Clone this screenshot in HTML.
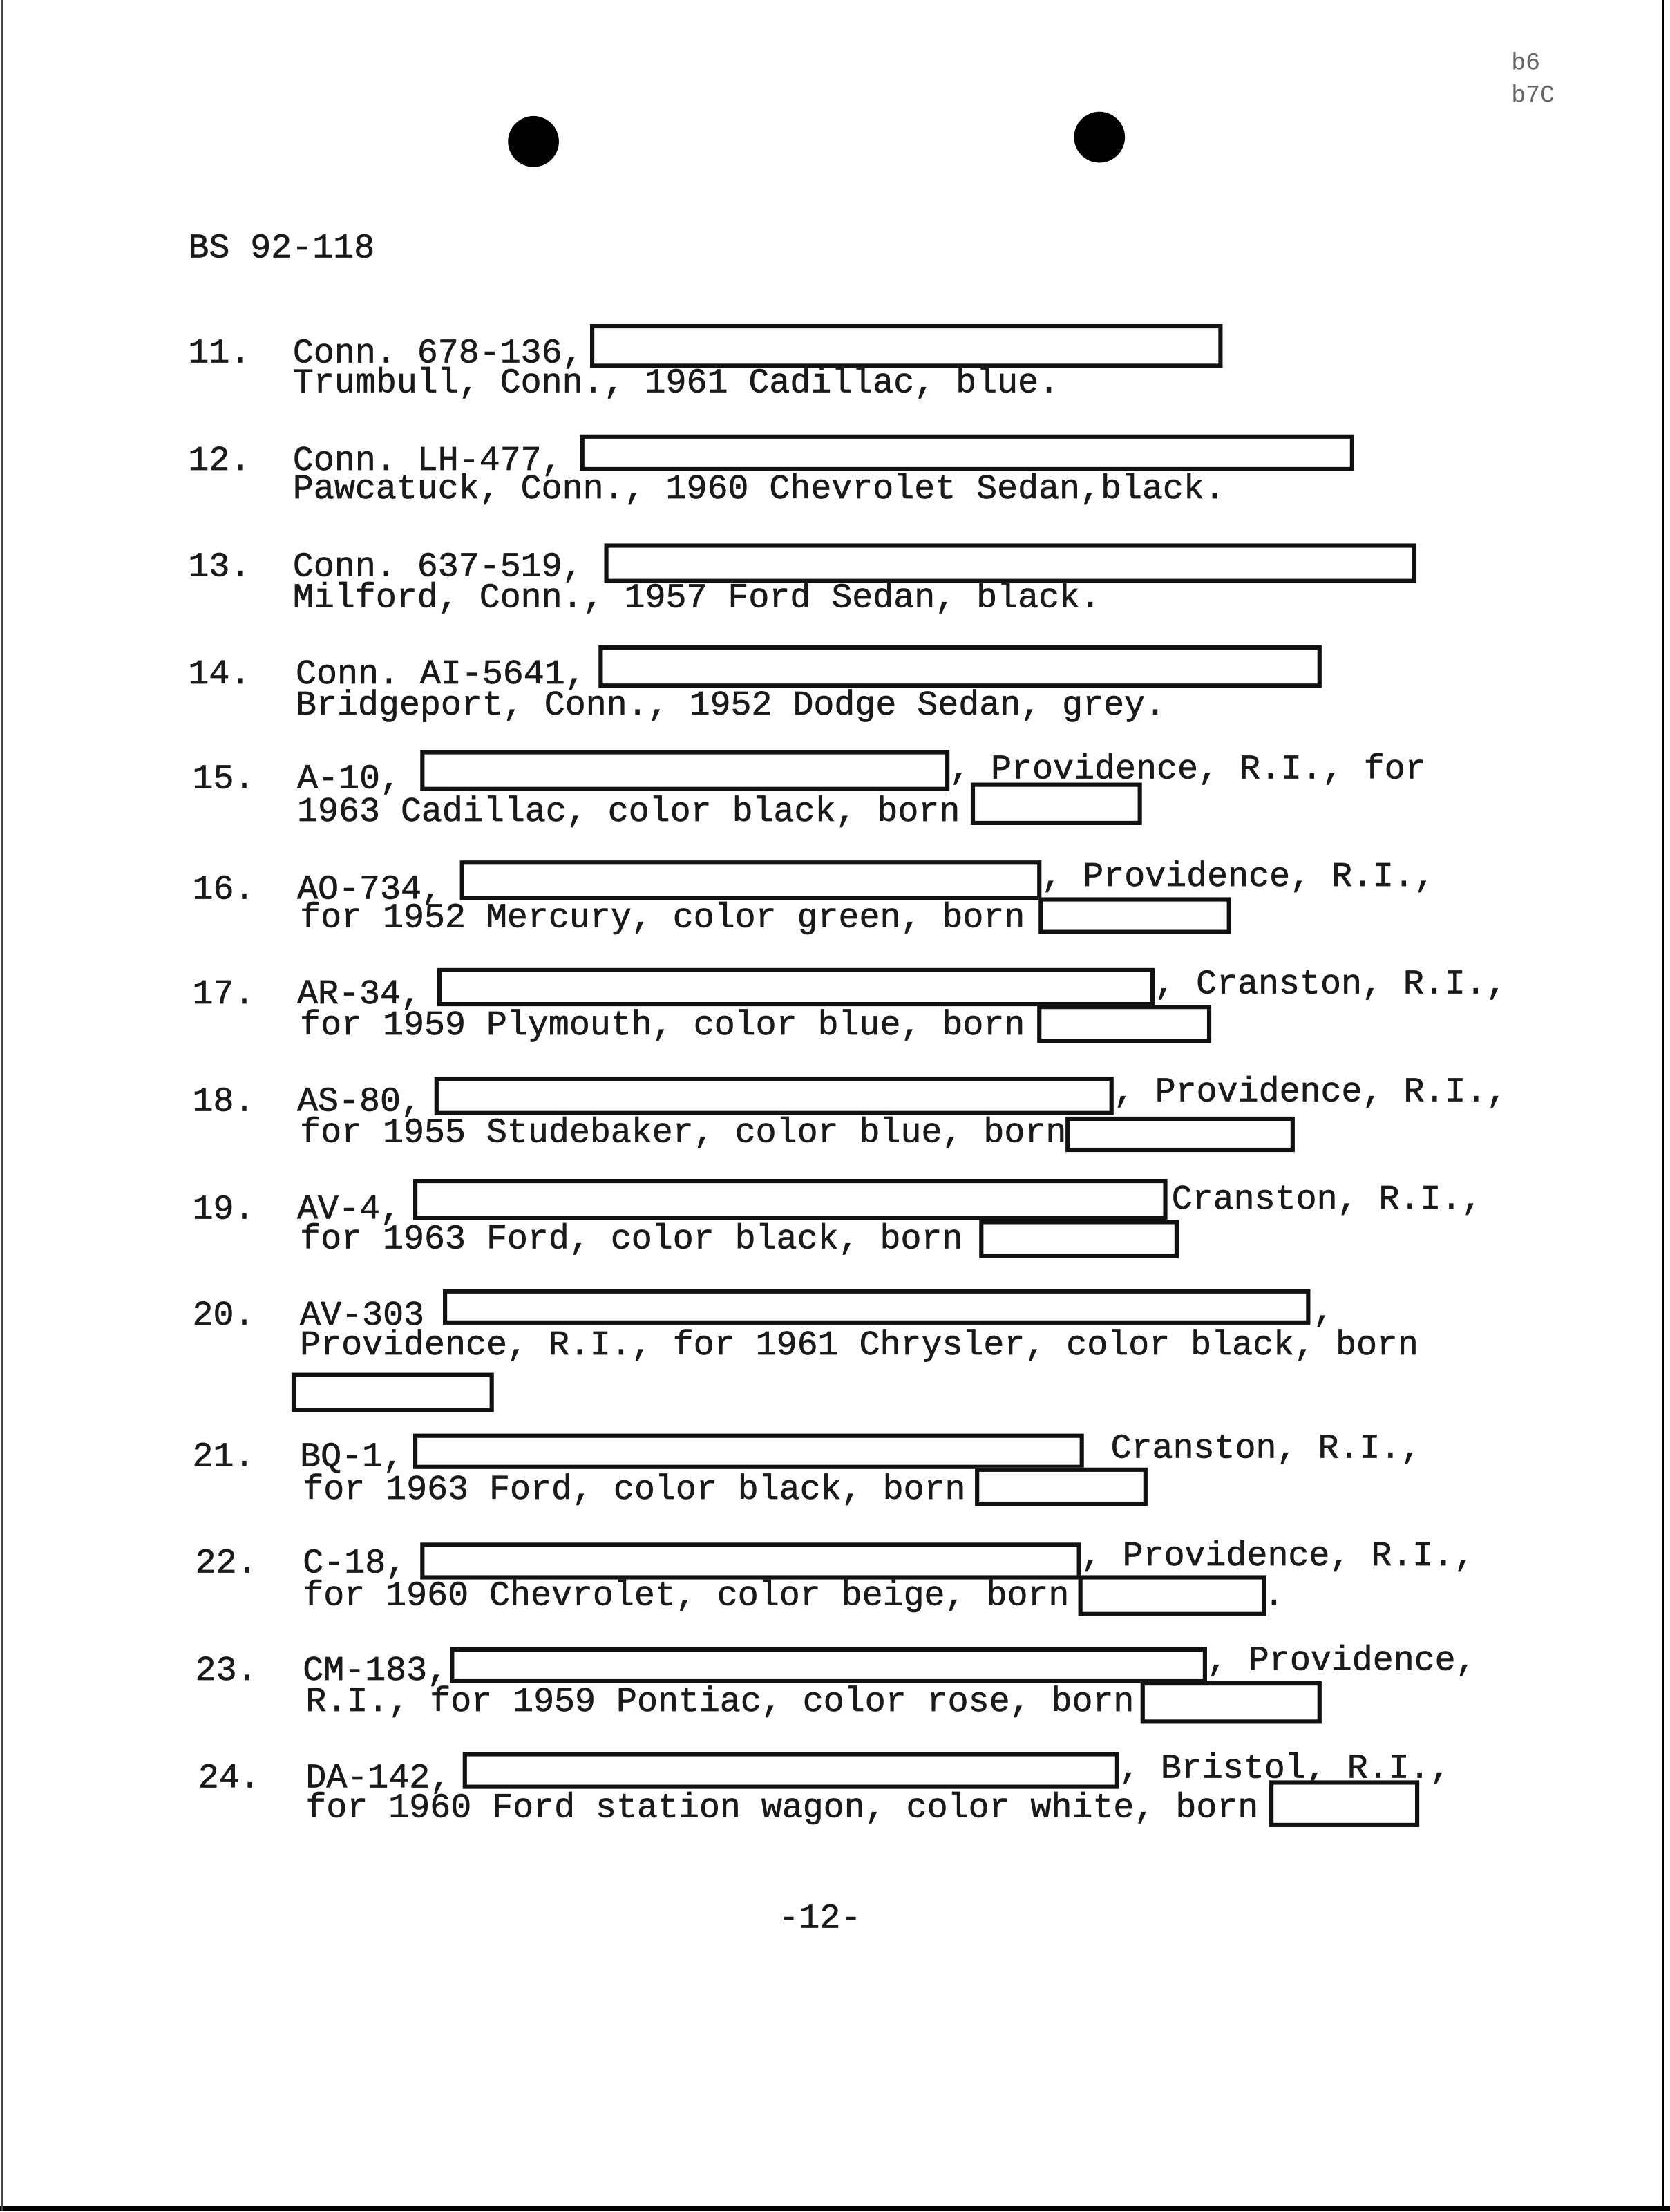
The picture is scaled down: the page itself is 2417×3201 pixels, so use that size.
<!DOCTYPE html>
<html><head><meta charset="utf-8"><style>
html,body{margin:0;padding:0;background:#fff;}
body{width:2417px;height:3200px;overflow:hidden;position:relative;}
#w{position:absolute;left:0;top:0;width:1180px;height:1563px;transform:scale(2.048);transform-origin:0 0;}
.t{position:absolute;white-space:pre;font-family:"Liberation Mono",monospace;font-size:24.4px;line-height:24px;color:#1a1a1a;-webkit-text-stroke:0.35px #1a1a1a;}
.b{position:absolute;border:3px solid #111;box-sizing:border-box;background:#fff;}
.d{position:absolute;border-radius:50%;background:#000;}
</style></head><body>
<div style="position:absolute;left:0;top:3192px;width:2417px;height:8px;background:#000"></div>
<div style="position:absolute;left:2405px;top:0;width:4px;height:3200px;background:#000"></div>
<div style="position:absolute;left:2px;top:0;width:2px;height:3200px;background:#444"></div>
<div id="w">
<div class="d" style="left:359px;top:82px;width:36px;height:36px"></div>
<div class="d" style="left:759px;top:79px;width:36px;height:36px"></div>
<div class="t" style="left:1068px;top:36px;font-size:17px;line-height:20px;color:#666;-webkit-text-stroke:0">b6</div>
<div class="t" style="left:1068px;top:59px;font-size:17px;line-height:20px;color:#666;-webkit-text-stroke:0">b7C</div>
<div class="t" style="left:133px;top:165px">BS 92-118</div>

<div class="t" style="left:133px;top:239px">11.</div>
<div class="t" style="left:207px;top:239px">Conn. 678-136,</div>
<div class="b" style="left:417px;top:229px;width:447px;height:31px"></div>
<div class="t" style="left:207px;top:260px">Trumbull, Conn., 1961 Cadillac, blue.</div>

<div class="t" style="left:133px;top:315px">12.</div>
<div class="t" style="left:207px;top:315px">Conn. LH-477,</div>
<div class="b" style="left:410px;top:307px;width:547px;height:26px"></div>
<div class="t" style="left:207px;top:335px">Pawcatuck, Conn., 1960 Chevrolet Sedan,black.</div>

<div class="t" style="left:133px;top:390px">13.</div>
<div class="t" style="left:207px;top:390px">Conn. 637-519,</div>
<div class="b" style="left:427px;top:384px;width:574px;height:28px"></div>
<div class="t" style="left:207px;top:412px">Milford, Conn., 1957 Ford Sedan, black.</div>

<div class="t" style="left:133px;top:466px">14.</div>
<div class="t" style="left:209px;top:466px">Conn. AI-5641,</div>
<div class="b" style="left:423px;top:456px;width:511px;height:30px"></div>
<div class="t" style="left:209px;top:488px">Bridgeport, Conn., 1952 Dodge Sedan, grey.</div>

<div class="t" style="left:136px;top:540px">15.</div>
<div class="t" style="left:210px;top:540px">A-10,</div>
<div class="b" style="left:297px;top:530px;width:374px;height:29px"></div>
<div class="t" style="left:671px;top:533px">, Providence, R.I., for</div>
<div class="t" style="left:210px;top:563px">1963 Cadillac, color black, born</div>
<div class="b" style="left:686px;top:553px;width:121px;height:30px"></div>

<div class="t" style="left:136px;top:618px">16.</div>
<div class="t" style="left:210px;top:618px">AO-734,</div>
<div class="b" style="left:325px;top:608px;width:411px;height:28px"></div>
<div class="t" style="left:736px;top:609px">, Providence, R.I.,</div>
<div class="t" style="left:212px;top:638px">for 1952 Mercury, color green, born</div>
<div class="b" style="left:734px;top:634px;width:136px;height:26px"></div>

<div class="t" style="left:136px;top:692px">17.</div>
<div class="t" style="left:210px;top:692px">AR-34,</div>
<div class="b" style="left:309px;top:684px;width:507px;height:27px"></div>
<div class="t" style="left:816px;top:685px">, Cranston, R.I.,</div>
<div class="t" style="left:212px;top:714px">for 1959 Plymouth, color blue, born</div>
<div class="b" style="left:733px;top:710px;width:123px;height:27px"></div>

<div class="t" style="left:136px;top:768px">18.</div>
<div class="t" style="left:210px;top:768px">AS-80,</div>
<div class="b" style="left:307px;top:761px;width:480px;height:27px"></div>
<div class="t" style="left:787px;top:761px">, Providence, R.I.,</div>
<div class="t" style="left:212px;top:790px">for 1955 Studebaker, color blue, born</div>
<div class="b" style="left:753px;top:789px;width:162px;height:25px"></div>

<div class="t" style="left:136px;top:844px">19.</div>
<div class="t" style="left:210px;top:844px">AV-4,</div>
<div class="b" style="left:292px;top:833px;width:533px;height:29px"></div>
<div class="t" style="left:828px;top:837px">Cranston, R.I.,</div>
<div class="t" style="left:212px;top:865px">for 1963 Ford, color black, born</div>
<div class="b" style="left:692px;top:862px;width:141px;height:27px"></div>

<div class="t" style="left:136px;top:919px">20.</div>
<div class="t" style="left:212px;top:919px">AV-303</div>
<div class="b" style="left:313px;top:911px;width:613px;height:25px"></div>
<div class="t" style="left:928px;top:916px">,</div>
<div class="t" style="left:212px;top:940px">Providence, R.I., for 1961 Chrysler, color black, born</div>
<div class="b" style="left:206px;top:970px;width:143px;height:28px"></div>

<div class="t" style="left:136px;top:1019px">21.</div>
<div class="t" style="left:212px;top:1019px">BQ-1,</div>
<div class="b" style="left:292px;top:1013px;width:474px;height:25px"></div>
<div class="t" style="left:785px;top:1013px">Cranston, R.I.,</div>
<div class="t" style="left:214px;top:1042px">for 1963 Ford, color black, born</div>
<div class="b" style="left:689px;top:1037px;width:122px;height:27px"></div>

<div class="t" style="left:138px;top:1094px">22.</div>
<div class="t" style="left:214px;top:1094px">C-18,</div>
<div class="b" style="left:297px;top:1090px;width:467px;height:26px"></div>
<div class="t" style="left:764px;top:1089px">, Providence, R.I.,</div>
<div class="t" style="left:214px;top:1117px">for 1960 Chevrolet, color beige, born</div>
<div class="b" style="left:762px;top:1113px;width:133px;height:29px"></div>
<div class="t" style="left:893px;top:1117px">.</div>

<div class="t" style="left:138px;top:1170px">23.</div>
<div class="t" style="left:214px;top:1170px">CM-183,</div>
<div class="b" style="left:318px;top:1164px;width:535px;height:25px"></div>
<div class="t" style="left:853px;top:1163px">, Providence,</div>
<div class="t" style="left:216px;top:1192px">R.I., for 1959 Pontiac, color rose, born</div>
<div class="b" style="left:806px;top:1188px;width:128px;height:30px"></div>

<div class="t" style="left:140px;top:1246px">24.</div>
<div class="t" style="left:216px;top:1246px">DA-142,</div>
<div class="b" style="left:327px;top:1238px;width:464px;height:26px"></div>
<div class="t" style="left:791px;top:1239px">, Bristol, R.I.,</div>
<div class="t" style="left:216px;top:1267px">for 1960 Ford station wagon, color white, born</div>
<div class="b" style="left:897px;top:1258px;width:106px;height:33px"></div>

<div class="t" style="left:550px;top:1345px">-12-</div>
</div>
</body></html>
